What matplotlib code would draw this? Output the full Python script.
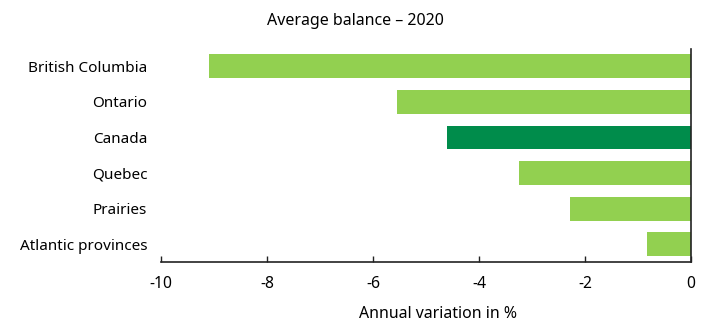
import matplotlib
matplotlib.use('Agg')
import matplotlib.pyplot as plt

# Average balance, annual variation in % (2020)
regions = ['British Columbia', 'Ontario', 'Canada', 'Quebec', 'Prairies', 'Atlantic provinces']
variation = [-9.1, -5.54, -4.6, -3.25, -2.28, -0.83]
bar_colors = ['#92d050', '#92d050', '#008c4b', '#92d050', '#92d050', '#92d050']
x_ticks = [-10, -8, -6, -4, -2, 0]

plt.rcParams['font.family'] = ['Noto Sans', 'DejaVu Sans']

fig = plt.figure(figsize=(7.09, 3.21), dpi=100)
ax = fig.add_axes([0.2271, 0.1838, 0.7475, 0.665])

ax.barh(range(len(regions)), variation, height=0.67, color=bar_colors)

ax.set_xlim(-10, 0)
ax.set_ylim(len(regions) - 0.5, -0.5)
ax.set_xticks(x_ticks)
ax.set_xticklabels([str(t) for t in x_ticks])
ax.set_yticks(range(len(regions)))
ax.set_yticklabels(regions)

ax.spines['top'].set_visible(False)
ax.spines['left'].set_visible(False)
ax.spines['right'].set_color('#222222')
ax.spines['bottom'].set_color('#222222')
ax.spines['right'].set_linewidth(1.2)
ax.spines['bottom'].set_linewidth(1.2)

ax.tick_params(axis='x', direction='in', length=4, width=1, labelsize=11.3, pad=10, colors='#222222', labelcolor='black')
ax.tick_params(axis='y', length=0, labelsize=11, pad=10)

fig.text(0.502, 0.935, 'Average balance \u2013 2020', ha='center', va='center', fontsize=11.5)
fig.text(0.618, 0.022, 'Annual variation in %', ha='center', va='center', fontsize=11.4)

fig.savefig('out.png', dpi=100)
